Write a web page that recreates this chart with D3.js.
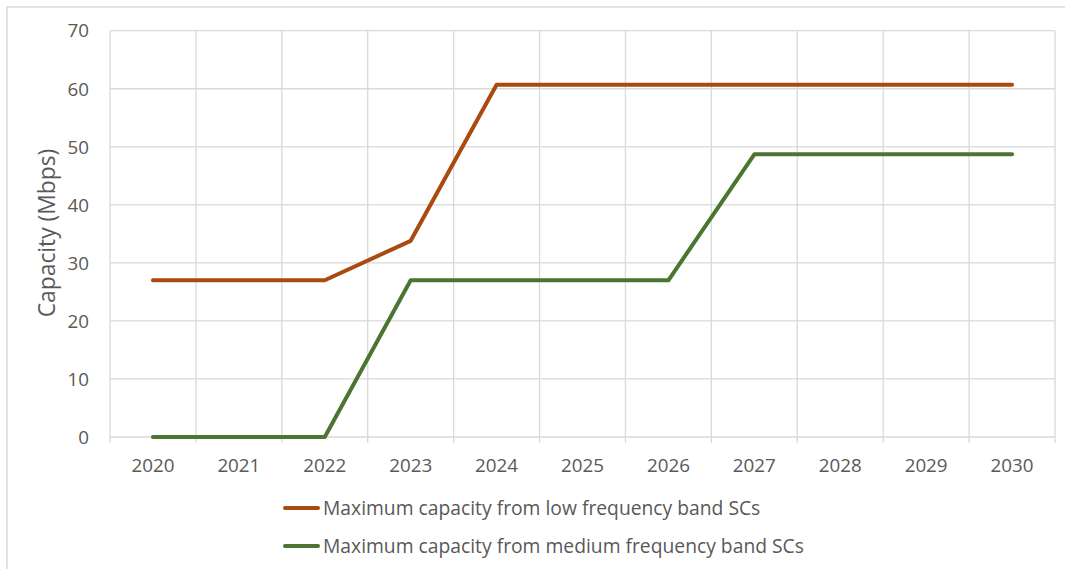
<!DOCTYPE html>
<html>
<head>
<meta charset="utf-8">
<script src="https://cdn.jsdelivr.net/npm/d3@7"></script>
<style>
  html, body { margin: 0; padding: 0; background: #fff; }
  svg { display: block; }
  text { font-family: "Open Sans", Lato, sans-serif; fill: #595959; }
</style>
</head>
<body>
<svg id="chart" width="1065" height="569"></svg>
<script>
// Years on the category axis
const years = ["2020", "2021", "2022", "2023", "2024", "2025", "2026", "2027", "2028", "2029", "2030"];
// Capacity in Mbps per year
const lowBand = [27, 27, 27, 33.8, 60.7, 60.7, 60.7, 60.7, 60.7, 60.7, 60.7];
const mediumBand = [0, 0, 0, 27, 27, 27, 27, 48.7, 48.7, 48.7, 48.7];
const yTicks = [0, 10, 20, 30, 40, 50, 60, 70];
const seriesNames = [
  "Maximum capacity from low frequency band SCs",
  "Maximum capacity from medium frequency band SCs"
];
const seriesColors = ["#A94A10", "#4B7530"];

const series = [
  { name: seriesNames[0], values: lowBand, color: seriesColors[0] },
  { name: seriesNames[1], values: mediumBand, color: seriesColors[1] }
];

const svg = d3.select("#chart");
const plot = { left: 110, right: 1055, top: 30.7, bottom: 437 };
const gridColor = "#d9d9d9";

// Outer chart frame
svg.append("rect")
  .attr("x", 7).attr("y", 7)
  .attr("width", 1070).attr("height", 580)
  .attr("fill", "none").attr("stroke", gridColor).attr("stroke-width", 1.5);

const x = d3.scaleBand().domain(years).range([plot.left, plot.right]);
const y = d3.scaleLinear().domain([0, 70]).range([plot.bottom, plot.top]);

// Horizontal gridlines
svg.append("g").selectAll("line").data(yTicks).join("line")
  .attr("x1", plot.left).attr("x2", plot.right)
  .attr("y1", d => y(d)).attr("y2", d => y(d))
  .attr("stroke", gridColor).attr("stroke-width", 1.3);

// Vertical gridlines at category boundaries, extending below the baseline as tick marks
const bounds = years.map(d => x(d)).concat([x(years[years.length - 1]) + x.bandwidth()]);
svg.append("g").selectAll("line").data(bounds).join("line")
  .attr("x1", d => d).attr("x2", d => d)
  .attr("y1", plot.top).attr("y2", plot.bottom + 6)
  .attr("stroke", gridColor).attr("stroke-width", 1.3);

// Y tick labels
svg.append("g").selectAll("text").data(yTicks).join("text")
  .attr("x", 89).attr("y", d => y(d))
  .attr("dy", "0.36em")
  .attr("text-anchor", "end")
  .attr("font-size", 18.8)
  .text(d => d);

// X tick labels
svg.append("g").selectAll("text").data(years).join("text")
  .attr("x", d => x(d) + x.bandwidth() / 2)
  .attr("y", 465)
  .attr("dy", "0.36em")
  .attr("text-anchor", "middle")
  .attr("font-size", 18.8)
  .text(d => d);

// Y axis title
svg.append("text")
  .attr("transform", "translate(47,233) rotate(-90)")
  .attr("dy", "0.36em")
  .attr("text-anchor", "middle")
  .attr("font-size", 22.8)
  .text("Capacity (Mbps)");

// Series lines
const line = d3.line()
  .x((d, i) => x(years[i]) + x.bandwidth() / 2)
  .y(d => y(d));

svg.append("g").selectAll("path").data(series).join("path")
  .attr("d", d => line(d.values))
  .attr("fill", "none")
  .attr("stroke", d => d.color)
  .attr("stroke-width", 4)
  .attr("stroke-linejoin", "round")
  .attr("stroke-linecap", "round");

// Legend
const legend = svg.append("g").selectAll("g").data(series).join("g")
  .attr("transform", (d, i) => `translate(285, ${508 + i * 38})`);
legend.append("line")
  .attr("x1", 0).attr("x2", 33)
  .attr("stroke", d => d.color).attr("stroke-width", 4)
  .attr("stroke-linecap", "round");
legend.append("text")
  .attr("x", 38).attr("dy", "0.36em")
  .attr("font-size", 19.3)
  .text(d => d.name);
</script>
</body>
</html>
